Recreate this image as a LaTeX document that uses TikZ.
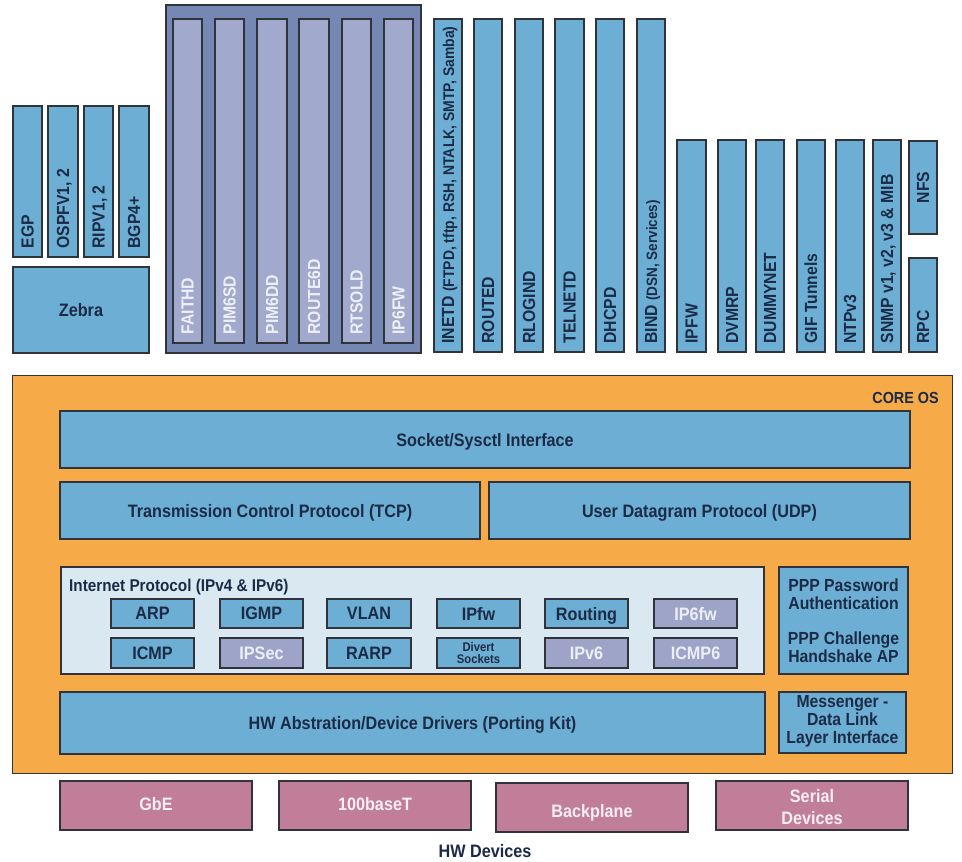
\documentclass[tikz,border=0pt]{standalone}
\usepackage{fontspec}
\setmainfont{Liberation Sans}[FakeStretch=0.9]
\usetikzlibrary{fit,calc}
\definecolor{bluef}{HTML}{6CAED4}
\definecolor{navy}{HTML}{1C2B45}
\definecolor{purpout}{HTML}{7587B3}
\definecolor{purpin}{HTML}{A1A9CC}
\definecolor{purpsm}{HTML}{9DA4C8}
\definecolor{purptext}{HTML}{EEF0F7}
\definecolor{orangef}{HTML}{F6AA48}
\definecolor{lightbl}{HTML}{D9E8F1}
\definecolor{pinkf}{HTML}{C07E99}
\definecolor{pinktext}{HTML}{F7EEF2}
\definecolor{edgec}{HTML}{30333A}
\tikzset{
  bx/.style={draw=edgec, line width=1.4pt, inner sep=0pt},
  bluebox/.style={bx, fill=bluef},
  purpbig/.style={bx, fill=purpout},
  purpcol/.style={bx, fill=purpin},
  purpsmall/.style={bx, fill=purpsm},
  orangebox/.style={bx, line width=1pt, fill=orangef},
  lightbox/.style={bx, fill=lightbl},
  pinkbox/.style={bx, fill=pinkf},
  lbl/.style={font=\bfseries\fontsize{18}{20}\selectfont, text=navy, inner sep=0pt, text depth=0pt},
  wlbl/.style={lbl, text=purptext},
  plbl/.style={lbl, text=pinktext},
  vt/.style={inner sep=0pt, text=navy, rotate=90, anchor=base west, font=\bfseries\fontsize{17.5}{19}\selectfont},
  wvt/.style={vt, text=purptext},
  multi/.style={font=\bfseries\fontsize{17.5}{18}\selectfont, text=navy, inner sep=0pt, align=center},
}
\newcommand\Bx[6]{\node[#1, fit={(#3,#4) (#5,#6)}] (#2) {};}
\newcommand\Vt[3][vt]{\node[#1] (#2-t) at ($(#2.south)+(6,-9)$) {#3};}
\newcommand\Ct[3][lbl]{\node[#1] (#2-t) at (#2.center) {#3};}
\begin{document}
\begin{tikzpicture}[x=1pt,y=-1pt]
\fill[white] (0,0) rectangle (962,862);
\useasboundingbox (0,0) rectangle (962,862);

% routing protocols
\Bx{bluebox}{egp}{13}{106}{42}{257}
\Bx{bluebox}{ospf}{48}{106}{78}{257}
\Bx{bluebox}{rip}{84}{106}{113}{257}
\Bx{bluebox}{bgp}{119}{106}{149}{257}
\Vt{egp}{EGP}
\Vt{ospf}{OSPFV1, 2}
\Vt{rip}{RIPV1, 2}
\Vt{bgp}{BGP4+}
\Bx{bluebox}{zebra}{13}{267}{149}{353}
\Ct{zebra}{Zebra}

% IPv6 daemons
\Bx{purpbig}{v6grp}{166}{5}{421}{353}
\Bx{purpcol}{faithd}{173}{19}{202}{343}
\Bx{purpcol}{pimsd}{215}{19}{244}{343}
\Bx{purpcol}{pimdd}{257}{19}{287}{343}
\Bx{purpcol}{route6d}{299}{19}{329}{343}
\Bx{purpcol}{rtsold}{342}{19}{371}{343}
\Bx{purpcol}{ipsixfw}{384}{19}{413}{343}
\Vt[wvt]{faithd}{FAITHD}
\Vt[wvt]{pimsd}{PIM6SD}
\Vt[wvt]{pimdd}{PIM6DD}
\Vt[wvt]{route6d}{ROUTE6D}
\Vt[wvt]{rtsold}{RTSOLD}
\Vt[wvt]{ipsixfw}{IP6FW}

% tall services
\Bx{bluebox}{inetd}{434}{19}{462}{352}
\Bx{bluebox}{routed}{474}{19}{502}{352}
\Bx{bluebox}{rlogind}{515}{19}{543}{352}
\Bx{bluebox}{telnetd}{555}{19}{584}{352}
\Bx{bluebox}{dhcpd}{596}{19}{624}{352}
\Bx{bluebox}{bind}{637}{19}{665}{352}
\Vt{inetd}{INETD {\fontsize{15.5}{17}\selectfont(FTPD, tftp, RSH, NTALK, SMTP, Samba)}}
\Vt{routed}{ROUTED}
\Vt{rlogind}{RLOGIND}
\Vt{telnetd}{TELNETD}
\Vt{dhcpd}{DHCPD}
\Vt{bind}{BIND {\fontsize{15}{17}\selectfont(DSN, Services)}}

% short services
\Bx{bluebox}{ipfw}{677}{140}{706}{352}
\Bx{bluebox}{dvmrp}{718}{140}{746}{352}
\Bx{bluebox}{dummynet}{756}{140}{784}{352}
\Bx{bluebox}{gif}{797}{140}{825}{352}
\Bx{bluebox}{ntp}{836}{140}{864}{352}
\Bx{bluebox}{snmp}{873}{140}{901}{352}
\Bx{bluebox}{nfs}{909}{141}{937}{234}
\Bx{bluebox}{rpc}{909}{258}{937}{352}
\Vt{ipfw}{IPFW}
\Vt{dvmrp}{DVMRP}
\Vt{dummynet}{DUMMYNET}
\Vt{gif}{GIF Tunnels}
\Vt{ntp}{NTPv3}
\Vt{snmp}{SNMP v1, v2, v3 \& MIB}
\node[vt] (nfs-t) at ($(nfs.center)+(6,0)$) [anchor=base] {NFS};
\Vt{rpc}{RPC}

% core OS
\Bx{orangebox}{core}{12}{375}{952}{773}
\node[lbl, font=\bfseries\fontsize{16}{18}\selectfont, anchor=east] (core-t) at (939,398) {CORE OS};
\Bx{bluebox}{socket}{60}{411}{910}{468}
\Ct{socket}{Socket/Sysctl Interface}
\Bx{bluebox}{tcp}{60}{482}{480}{539}
\Ct{tcp}{Transmission Control Protocol (TCP)}
\Bx{bluebox}{udp}{489}{482}{910}{539}
\Ct{udp}{User Datagram Protocol (UDP)}

\Bx{lightbox}{ip}{61}{567}{764}{674}
\node[lbl, font=\bfseries\fontsize{17}{19}\selectfont, anchor=west] (ip-t) at (69,585) {Internet Protocol (IPv4 \& IPv6)};
\Bx{bluebox}{arp}{111}{599}{194}{628}
\Bx{bluebox}{igmp}{220}{599}{303}{628}
\Bx{bluebox}{vlan}{327}{599}{411}{628}
\Bx{bluebox}{ipfwk}{437}{599}{520}{628}
\Bx{bluebox}{routing}{545}{599}{628}{628}
\Bx{purpsmall}{ipsfw}{654}{599}{737}{628}
\Bx{bluebox}{icmp}{111}{638}{194}{668}
\Bx{purpsmall}{ipsec}{220}{638}{303}{668}
\Bx{bluebox}{rarp}{327}{638}{411}{668}
\Bx{bluebox}{divert}{437}{638}{520}{668}
\Bx{purpsmall}{ipv6}{545}{638}{628}{668}
\Bx{purpsmall}{icmp6}{654}{638}{737}{668}
\Ct{arp}{ARP}
\Ct{igmp}{IGMP}
\Ct{vlan}{VLAN}
\Ct{ipfwk}{IPfw}
\Ct{routing}{Routing}
\Ct[wlbl]{ipsfw}{IP6fw}
\Ct{icmp}{ICMP}
\Ct[wlbl]{ipsec}{IPSec}
\Ct{rarp}{RARP}
\node[multi, font=\bfseries\fontsize{12.5}{12}\selectfont] (divert-t) at (divert.center) {Divert\\Sockets};
\Ct[wlbl]{ipv6}{IPv6}
\Ct[wlbl]{icmp6}{ICMP6}

\Bx{bluebox}{ppp}{779}{567}{908}{674}
\node[multi] (ppp-t) at (ppp.center) {PPP Password\\Authentication\\[17pt]PPP Challenge\\Handshake AP};
\Bx{bluebox}{hwa}{60}{692}{765}{754}
\Ct{hwa}{HW Abstration/Device Drivers (Porting Kit)}
\Bx{bluebox}{msg}{779}{692}{906}{753}
\node[multi] (msg-t) at ($(msg.center)+(0,-1)$) {Messenger -\\Data Link\\Layer Interface};

% hardware
\Bx{pinkbox}{gbe}{60}{781}{252}{830}
\Bx{pinkbox}{hundred}{279}{781}{471}{830}
\Bx{pinkbox}{backplane}{496}{783}{688}{832}
\Bx{pinkbox}{serial}{716}{781}{908}{830}
\node[plbl] (gbe-t) at ($(gbe.center)+(0,-2)$) {GbE};
\node[plbl] (hundred-t) at ($(hundred.center)+(0,-2)$) {100baseT};
\node[plbl] (backplane-t) at ($(backplane.center)+(0,3)$) {Backplane};
\node[multi, text=pinktext, font=\bfseries\fontsize{18}{22}\selectfont] (serial-t) at ($(serial.center)+(0,1.5)$) {Serial\\Devices};
\node[lbl] (hwdev) at (485,851) {HW Devices};
\end{tikzpicture}
\end{document}
